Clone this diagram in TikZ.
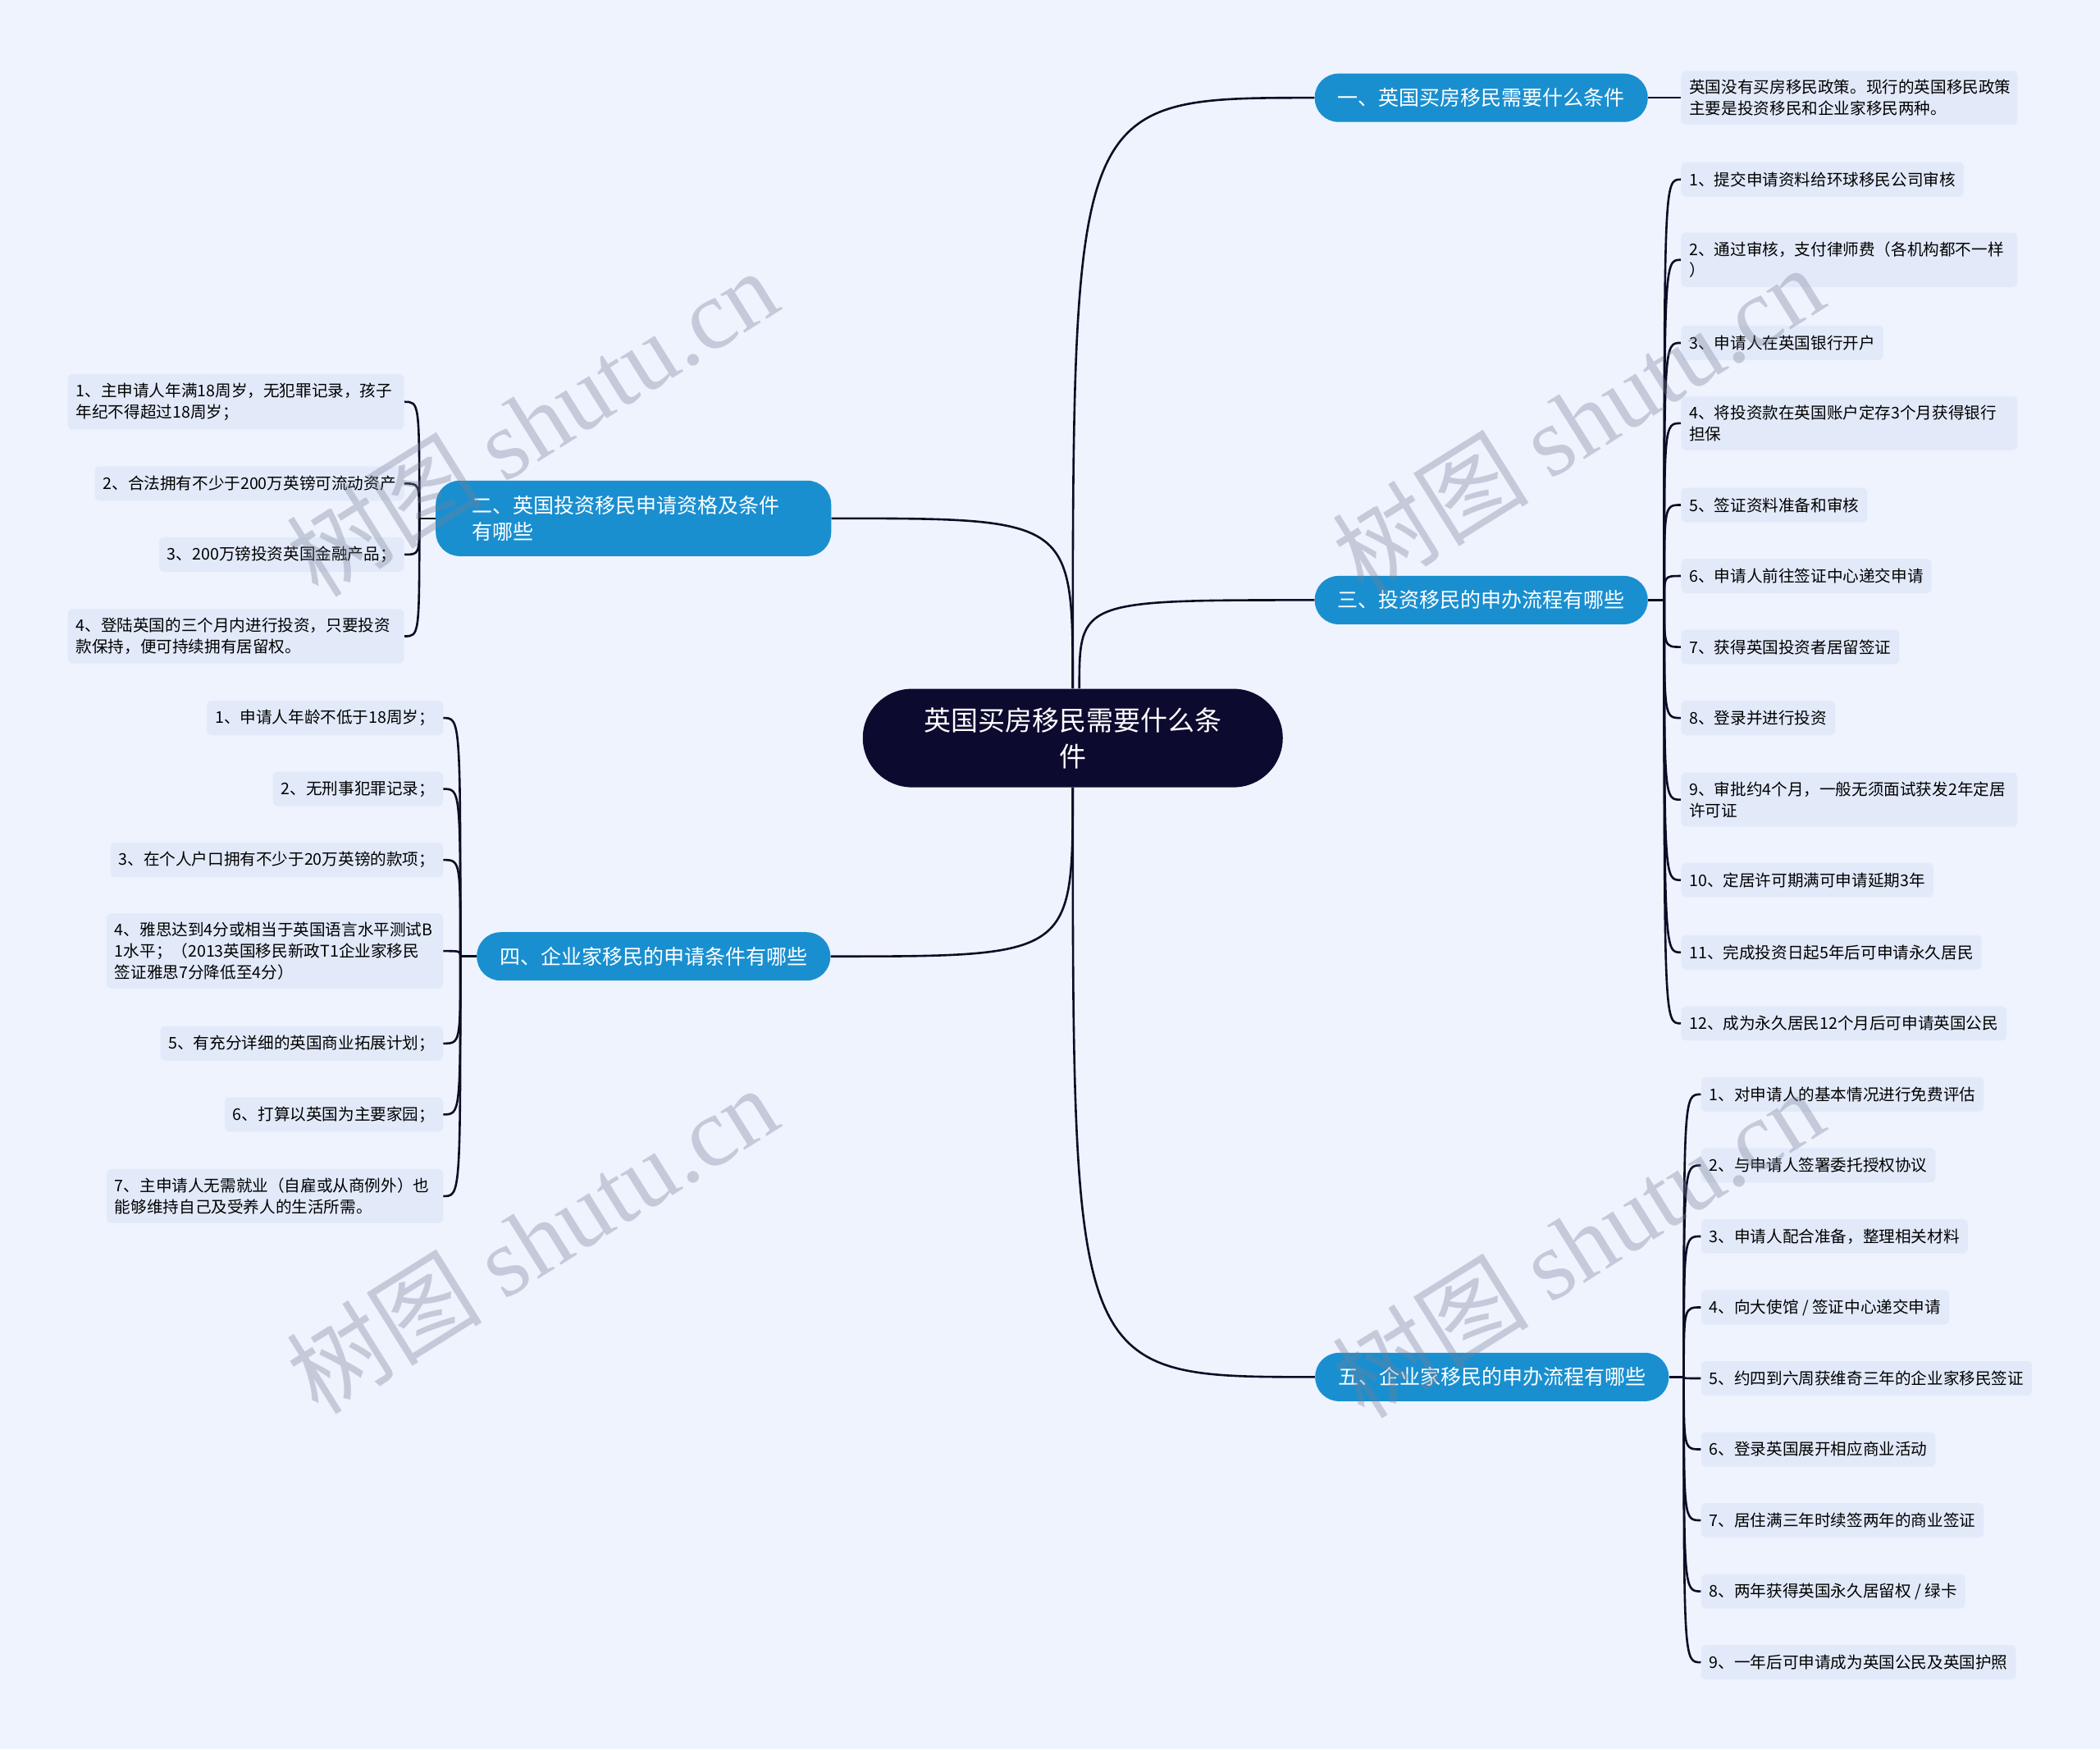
\documentclass[tikz,border=0pt]{standalone}
\usepackage{fontspec}
\setmainfont{Noto Sans CJK SC}
\newfontfamily\wmfont{Liberation Serif}

\definecolor{bgcol}{RGB}{238,243,254}
\definecolor{leafcol}{RGB}{226,234,250}
\definecolor{bluecol}{RGB}{26,143,208}
\definecolor{rootcol}{RGB}{12,10,46}
\definecolor{linecol}{RGB}{12,12,36}
\definecolor{wmcol}{RGB}{120,128,150}

\tikzset{
  rootbox/.style={fill=rootcol, text=white, rounded corners=30pt, minimum width=256pt,
    minimum height=60pt, text width=190pt, align=center, font=\fontsize{16.5}{22}\selectfont},
  topic/.style={fill=bluecol, text=white, rounded corners=14.5pt, minimum height=29.5pt,
    inner xsep=14pt, font=\fontsize{12.5}{16.3}\selectfont},
  leaf/.style={fill=leafcol, rounded corners=3pt, inner xsep=5pt, inner ysep=3pt,
    minimum height=21pt, font=\fontsize{9.8}{12.8}\selectfont},
  leafwide/.style={leaf, text width=195pt, align=left, inner ysep=5.5pt},
  link/.style={draw=linecol, line width=1.3pt},
  wmark/.style={text=wmcol, text opacity=0.35, font=\fontsize{60}{60}\selectfont}
}

\begin{document}
\begin{tikzpicture}[x=0.8163pt,y=-0.8163pt]
    \fill[bgcol] (0,0) rectangle (1568,1306);
    \useasboundingbox (0,0) rectangle (1568,1306);
    % centre et branches
    \node[rootbox] (root) at (801,551) {英国买房移民需要什么条\\件};
    \node[topic] (t1) at (1106,73) {一、英国买房移民需要什么条件};
    \node[topic, text width=197pt, align=left, inner xsep=22pt, minimum height=46pt] (t2) at (473,387) {二、英国投资移民申请资格及条件\\有哪些};
    \node[topic] (t3) at (1106,448) {三、投资移民的申办流程有哪些};
    \node[topic] (t4) at (488,714) {四、企业家移民的申请条件有哪些};
    \node[topic] (t5) at (1114,1028) {五、企业家移民的申办流程有哪些};
    \draw[link] (root.north) .. controls (root.north |- t1.west) .. (t1.west);
    \draw[link] (root.north) .. controls (root.north |- t2.east) .. (t2.east);
    \draw[link] ([xshift=4pt]root.north) .. controls ([xshift=4pt]root.north |- t3.west) .. (t3.west);
    \draw[link] (root.south) .. controls (root.south |- t4.east) .. (t4.east);
    \draw[link] (root.south) .. controls (root.south |- t5.west) .. (t5.west);
    % branche 1
    \node[leafwide, anchor=west] (l11) at (1255,73) {英国没有买房移民政策。现行的英国移民政策\\主要是投资移民和企业家移民两种。};
    \draw[link] (t1.east) -- (l11.west);
    % branche 2
    \node[leafwide, anchor=east] (l21) at (302,300) {1、主申请人年满18周岁，无犯罪记录，孩子\\年纪不得超过18周岁；};
    \node[leaf, anchor=east] (l22) at (302,361) {2、合法拥有不少于200万英镑可流动资产};
    \node[leaf, anchor=east] (l23) at (302,414) {3、200万镑投资英国金融产品；};
    \node[leafwide, anchor=east] (l24) at (302,475) {4、登陆英国的三个月内进行投资，只要投资\\款保持，便可持续拥有居留权。};
    \draw[link] (t2.west) -- ++(-12,0) coordinate (s2);
    \draw[link] (s2) .. controls (s2 |- l21.east) .. (l21.east);
    \draw[link] (s2) .. controls (s2 |- l22.east) .. (l22.east);
    \draw[link] (s2) .. controls (s2 |- l23.east) .. (l23.east);
    \draw[link] (s2) .. controls (s2 |- l24.east) .. (l24.east);
    % branche 3
    \node[leaf, anchor=west] (l31) at (1255,134) {1、提交申请资料给环球移民公司审核};
    \node[leafwide, anchor=west] (l32) at (1255,194) {2、通过审核，支付律师费（各机构都不一样\\）};
    \node[leaf, anchor=west] (l33) at (1255,256) {3、申请人在英国银行开户};
    \node[leafwide, anchor=west] (l34) at (1255,316) {4、将投资款在英国账户定存3个月获得银行\\担保};
    \node[leaf, anchor=west] (l35) at (1255,377) {5、签证资料准备和审核};
    \node[leaf, anchor=west] (l36) at (1255,430) {6、申请人前往签证中心递交申请};
    \node[leaf, anchor=west] (l37) at (1255,483) {7、获得英国投资者居留签证};
    \node[leaf, anchor=west] (l38) at (1255,536) {8、登录并进行投资};
    \node[leafwide, anchor=west] (l39) at (1255,597) {9、审批约4个月，一般无须面试获发2年定居\\许可证};
    \node[leaf, anchor=west] (l310) at (1255,657) {10、定居许可期满可申请延期3年};
    \node[leaf, anchor=west] (l311) at (1255,711) {11、完成投资日起5年后可申请永久居民};
    \node[leaf, anchor=west] (l312) at (1255,764) {12、成为永久居民12个月后可申请英国公民};
    \draw[link] (t3.east) -- ++(12,0) coordinate (s3);
    \draw[link] (s3) .. controls (s3 |- l31.west) .. (l31.west);
    \draw[link] (s3) .. controls (s3 |- l32.west) .. (l32.west);
    \draw[link] (s3) .. controls (s3 |- l33.west) .. (l33.west);
    \draw[link] (s3) .. controls (s3 |- l34.west) .. (l34.west);
    \draw[link] (s3) .. controls (s3 |- l35.west) .. (l35.west);
    \draw[link] (s3) .. controls (s3 |- l36.west) .. (l36.west);
    \draw[link] (s3) .. controls (s3 |- l37.west) .. (l37.west);
    \draw[link] (s3) .. controls (s3 |- l38.west) .. (l38.west);
    \draw[link] (s3) .. controls (s3 |- l39.west) .. (l39.west);
    \draw[link] (s3) .. controls (s3 |- l310.west) .. (l310.west);
    \draw[link] (s3) .. controls (s3 |- l311.west) .. (l311.west);
    \draw[link] (s3) .. controls (s3 |- l312.west) .. (l312.west);
    % branche 4
    \node[leaf, anchor=east] (l41) at (331,536) {1、申请人年龄不低于18周岁；};
    \node[leaf, anchor=east] (l42) at (331,589) {2、无刑事犯罪记录；};
    \node[leaf, anchor=east] (l43) at (331,642) {3、在个人户口拥有不少于20万英镑的款项；};
    \node[leafwide, anchor=east] (l44) at (331,710) {4、雅思达到4分或相当于英国语言水平测试B\\1水平；（2013英国移民新政T1企业家移民\\签证雅思7分降低至4分）};
    \node[leaf, anchor=east] (l45) at (331,779) {5、有充分详细的英国商业拓展计划；};
    \node[leaf, anchor=east] (l46) at (331,832) {6、打算以英国为主要家园；};
    \node[leafwide, anchor=east] (l47) at (331,893) {7、主申请人无需就业（自雇或从商例外）也\\能够维持自己及受养人的生活所需。};
    \draw[link] (t4.west) -- ++(-12,0) coordinate (s4);
    \draw[link] (s4) .. controls (s4 |- l41.east) .. (l41.east);
    \draw[link] (s4) .. controls (s4 |- l42.east) .. (l42.east);
    \draw[link] (s4) .. controls (s4 |- l43.east) .. (l43.east);
    \draw[link] (s4) .. controls (s4 |- l44.east) .. (l44.east);
    \draw[link] (s4) .. controls (s4 |- l45.east) .. (l45.east);
    \draw[link] (s4) .. controls (s4 |- l46.east) .. (l46.east);
    \draw[link] (s4) .. controls (s4 |- l47.east) .. (l47.east);
    % branche 5
    \node[leaf, anchor=west] (l51) at (1270,817) {1、对申请人的基本情况进行免费评估};
    \node[leaf, anchor=west] (l52) at (1270,870) {2、与申请人签署委托授权协议};
    \node[leaf, anchor=west] (l53) at (1270,923) {3、申请人配合准备，整理相关材料};
    \node[leaf, anchor=west] (l54) at (1270,976) {4、向大使馆 / 签证中心递交申请};
    \node[leaf, anchor=west] (l55) at (1270,1029) {5、约四到六周获维奇三年的企业家移民签证};
    \node[leaf, anchor=west] (l56) at (1270,1082) {6、登录英国展开相应商业活动};
    \node[leaf, anchor=west] (l57) at (1270,1135) {7、居住满三年时续签两年的商业签证};
    \node[leaf, anchor=west] (l58) at (1270,1188) {8、两年获得英国永久居留权 / 绿卡};
    \node[leaf, anchor=west] (l59) at (1270,1241) {9、一年后可申请成为英国公民及英国护照};
    \draw[link] (t5.east) -- ++(11,0) coordinate (s5);
    \draw[link] (s5) .. controls (s5 |- l51.west) .. (l51.west);
    \draw[link] (s5) .. controls (s5 |- l52.west) .. (l52.west);
    \draw[link] (s5) .. controls (s5 |- l53.west) .. (l53.west);
    \draw[link] (s5) .. controls (s5 |- l54.west) .. (l54.west);
    \draw[link] (s5) .. controls (s5 |- l55.west) .. (l55.west);
    \draw[link] (s5) .. controls (s5 |- l56.west) .. (l56.west);
    \draw[link] (s5) .. controls (s5 |- l57.west) .. (l57.west);
    \draw[link] (s5) .. controls (s5 |- l58.west) .. (l58.west);
    \draw[link] (s5) .. controls (s5 |- l59.west) .. (l59.west);
    % filigrane
    \node[wmark, rotate=32] (wm1) at (397,315) {树图 {\wmfont shutu.cn}};
    \node[wmark, rotate=32] (wm2) at (1178,313) {树图 {\wmfont shutu.cn}};
    \node[wmark, rotate=32] (wm3) at (397,925) {树图 {\wmfont shutu.cn}};
    \node[wmark, rotate=32] (wm4) at (1178,928) {树图 {\wmfont shutu.cn}};
\end{tikzpicture}
\end{document}
